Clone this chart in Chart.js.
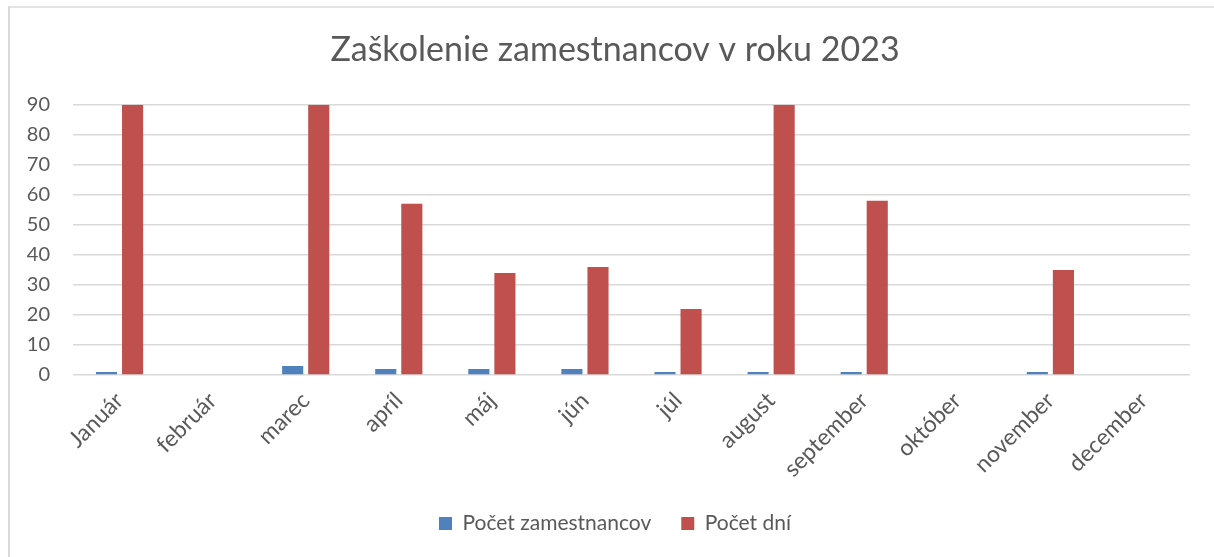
<!DOCTYPE html>
<html lang="sk">
<head>
<meta charset="utf-8">
<title>Zaškolenie zamestnancov v roku 2023</title>
<script src="https://cdn.jsdelivr.net/npm/chart.js@4"></script>
<style>
  html, body {
    margin: 0;
    padding: 0;
    background: #ffffff;
    overflow: hidden;
  }
  #container-chart {
    position: relative;
    width: 1214px;
    height: 557px;
  }
  .marco {
    position: absolute;
    left: 8px;
    top: 6px;
    width: 1400px;
    height: 800px;
    border-left: 2px solid #d9d9d9;
    border-top: 2px solid #e3e3e3;
    pointer-events: none;
  }
</style>
</head>
<body>
<div id="container-chart"></div>
<script>
// Datos del grafico
const meses = ["Január", "február", "marec", "apríl", "máj", "jún", "júl", "august", "september", "október", "november", "december"];
const pocetZamestnancov = [1, 0, 3, 2, 2, 2, 1, 1, 1, 0, 1, 0];
const pocetDni = [90, 0, 90, 57, 34, 36, 22, 90, 58, 0, 35, 0];
const ejeMax = 90;
const ejePaso = 10;

const fuente = "Lato, 'Open Sans', sans-serif";
const gris = "#595959";

// Creamos el canvas dentro del contenedor
function createCanva(idContainer, idCanva) {
  const container = document.getElementById(idContainer);
  const marco = document.createElement("div");
  const canva = document.createElement("canvas");
  marco.classList.add("marco");
  canva.id = idCanva;
  canva.width = 1214;
  canva.height = 557;
  container.appendChild(canva);
  container.appendChild(marco);
}

// Titulo y leyenda centrados en el marco y no en el canvas
const centrarEnMarco = {
  id: "centrarEnMarco",
  afterLayout(chart) {
    [chart.titleBlock, chart.legend].forEach((box) => {
      box.left += 20;
      box.right += 20;
    });
  },
};

function chartZaskolenie() {
  createCanva("container-chart", "ChartZaskolenie");
  const ctx = document.getElementById("ChartZaskolenie");

  const datasets = [
    {
      label: "Počet zamestnancov",
      data: pocetZamestnancov,
      backgroundColor: "#4f81bd",
      borderWidth: 0,
    },
    {
      label: "Počet dní",
      data: pocetDni,
      backgroundColor: "#c0504d",
      borderWidth: 0,
    },
  ];

  const options = {
    responsive: false,
    animation: false,
    devicePixelRatio: 1,
    layout: {
      padding: { left: 0, right: 24, top: 0, bottom: 13 },
    },
    datasets: {
      bar: {
        categoryPercentage: 0.56,
        barPercentage: 0.81,
      },
    },
    plugins: {
      title: {
        display: true,
        text: "Zaškolenie zamestnancov v roku 2023",
        color: gris,
        font: { family: fuente, size: 34, weight: "normal" },
        padding: { top: 30, bottom: 34 },
      },
      legend: {
        position: "bottom",
        labels: {
          color: gris,
          font: { family: fuente, size: 21 },
          boxWidth: 13,
          boxHeight: 13,
          padding: 30,
        },
      },
      tooltip: { enabled: false },
    },
    scales: {
      x: {
        grid: { display: false },
        border: { display: false },
        ticks: {
          color: gris,
          font: { family: fuente, size: 23 },
          maxRotation: 45,
          minRotation: 45,
          autoSkip: false,
          padding: 4,
        },
        afterFit: (scale) => {
          scale.height = 108;
        },
      },
      y: {
        min: 0,
        max: ejeMax,
        ticks: {
          stepSize: ejePaso,
          color: gris,
          font: { family: fuente, size: 20 },
          padding: 23,
        },
        grid: {
          color: "#d9d9d9",
          lineWidth: 1.5,
          drawTicks: false,
        },
        border: { display: false },
        afterFit: (scale) => {
          scale.width = 73;
        },
      },
    },
  };

  new Chart(ctx, {
    type: "bar",
    data: {
      labels: meses,
      datasets: datasets,
    },
    options: options,
    plugins: [centrarEnMarco],
  });
}

chartZaskolenie();
</script>
</body>
</html>
